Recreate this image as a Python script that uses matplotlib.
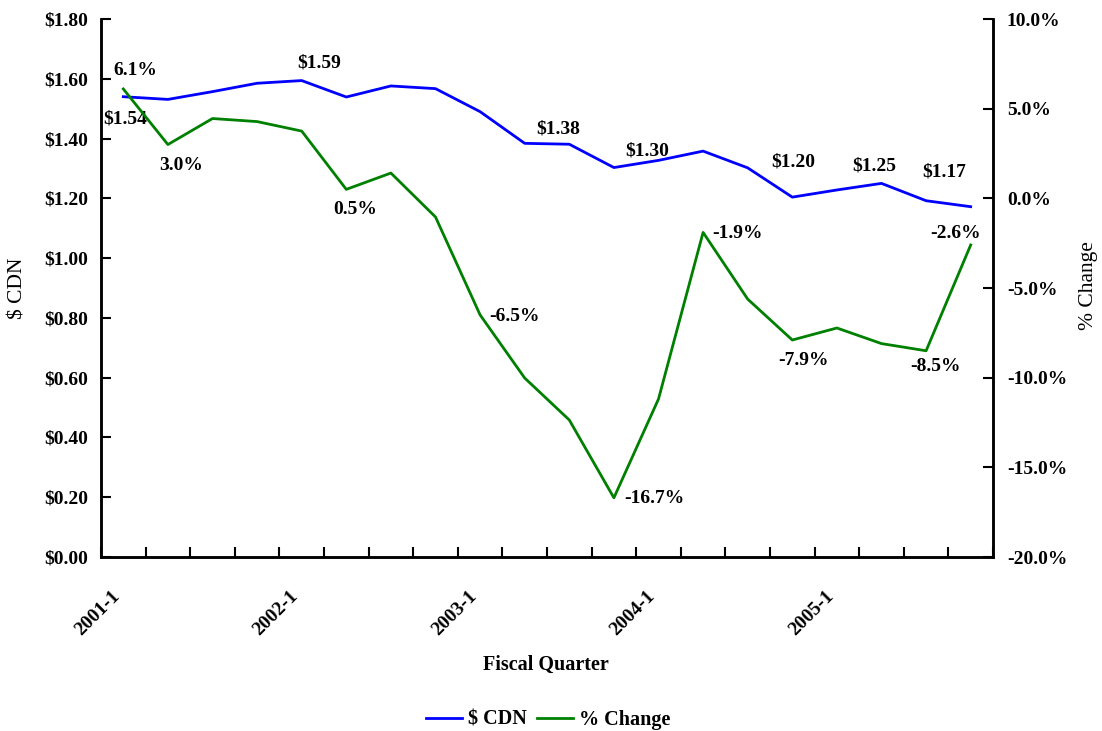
import matplotlib
matplotlib.use("Agg")
import matplotlib.pyplot as plt
from matplotlib.ticker import FuncFormatter, FixedLocator

# Quarterly series
quarters = ["2001-1", "2001-2", "2001-3", "2001-4",
            "2002-1", "2002-2", "2002-3", "2002-4",
            "2003-1", "2003-2", "2003-3", "2003-4",
            "2004-1", "2004-2", "2004-3", "2004-4",
            "2005-1", "2005-2", "2005-3", "2005-4"]
cdn = [1.540, 1.531, 1.557, 1.585, 1.594, 1.539, 1.576, 1.567, 1.490, 1.384,
       1.381, 1.303, 1.327, 1.358, 1.302, 1.204, 1.228, 1.250, 1.192, 1.172]
pct_change = [6.1, 3.0, 4.45, 4.28, 3.75, 0.5, 1.41, -1.04, -6.5, -10.02,
              -12.36, -16.7, -11.19, -1.9, -5.62, -7.9, -7.23, -8.1, -8.5, -2.6]

labeled_quarters = ["2001-1", "2002-1", "2003-1", "2004-1", "2005-1"]

# Which points carry a value label, and where the label sits (offset in pixels)
cdn_labels = {0: (2, -22), 4: (17, 18), 9: (33, 14), 11: (33, 17),
              15: (1, 35), 17: (-7, 17), 19: (-27, 35)}
pct_labels = {0: (12, 18), 1: (13, -21), 5: (9, -20), 8: (34, -2),
              11: (40, -1), 13: (34, -1), 15: (11, -20), 18: (9, -16),
              19: (-15, 11)}

plt.rcParams["font.family"] = ["Liberation Serif", "DejaVu Serif"]
plt.rcParams["font.weight"] = "bold"
plt.rcParams["font.size"] = 14

W, H = 1102, 731
fig = plt.figure(figsize=(W / 100, H / 100), dpi=100)
ax = fig.add_axes([101 / W, 1 - 557 / H, (993 - 101) / W, (557 - 19) / H])
ax2 = ax.twinx()

x = list(range(len(quarters)))
blue, green = "#0000FF", "#008000"
l1, = ax.plot(x, cdn, color=blue, lw=2.0, label="$ CDN")
l2, = ax2.plot(x, pct_change, color=green, lw=2.0, label="% Change")

ax.set_xlim(-0.5, len(quarters) - 0.5)
ax.set_ylim(0, 1.8)
ax2.set_ylim(-20, 10)

ax.set_yticks([i * 0.2 for i in range(10)])
ax.yaxis.set_major_formatter(FuncFormatter(lambda v, p: f"${v:.2f}"))
ax2.set_yticks(list(range(-20, 11, 5)))
ax2.yaxis.set_major_formatter(FuncFormatter(lambda v, p: f"{v:.1f}%"))

major = [quarters.index(q) for q in labeled_quarters]
ax.set_xticks(major)
ax.set_xticklabels(labeled_quarters, rotation=45, ha="right")
ax.xaxis.set_minor_locator(FixedLocator([i - 0.5 for i in range(len(quarters) + 1)]))

ax.tick_params(axis="x", which="major", length=0, pad=22, labelsize=14)
ax.tick_params(axis="x", which="minor", direction="in", length=7, width=1.5)
ax.tick_params(axis="y", direction="in", length=7, width=1.5, pad=9, labelsize=14)
ax2.tick_params(axis="y", direction="in", length=7, width=1.5, pad=10, labelsize=14)

for a in (ax, ax2):
    a.spines["top"].set_visible(False)
    for s in ("left", "right", "bottom"):
        a.spines[s].set_linewidth(1.8)

for i, (dx, dy) in cdn_labels.items():
    ax.annotate(f"${cdn[i]:.2f}", (x[i], cdn[i]), xytext=(dx, dy),
                textcoords="offset pixels", ha="center", va="center",
                fontsize=14, fontweight="bold")
for i, (dx, dy) in pct_labels.items():
    ax2.annotate(f"{pct_change[i]:.1f}%", (x[i], pct_change[i]), xytext=(dx, dy),
                 textcoords="offset pixels", ha="center", va="center",
                 fontsize=14, fontweight="bold")

fig.text(18 / W, 1 - 288 / H, "$ CDN", rotation=90, ha="center", va="center",
         fontsize=15.5, fontweight="normal")
fig.text(1088 / W, 1 - 286 / H, "% Change", rotation=90, ha="center", va="center",
         fontsize=15.5, fontweight="normal")
fig.text(546 / W, 1 - 665 / H, "Fiscal Quarter", ha="center", va="center",
         fontsize=14.5, fontweight="bold")

fig.legend([l1, l2], ["$ CDN", "% Change"], loc="center",
           bbox_to_anchor=(548 / W, 1 - 720 / H), ncol=2, frameon=False,
           handlelength=1.8, handletextpad=0.3, columnspacing=0.5, fontsize=14.5)

fig.savefig("out.png", dpi=100)
